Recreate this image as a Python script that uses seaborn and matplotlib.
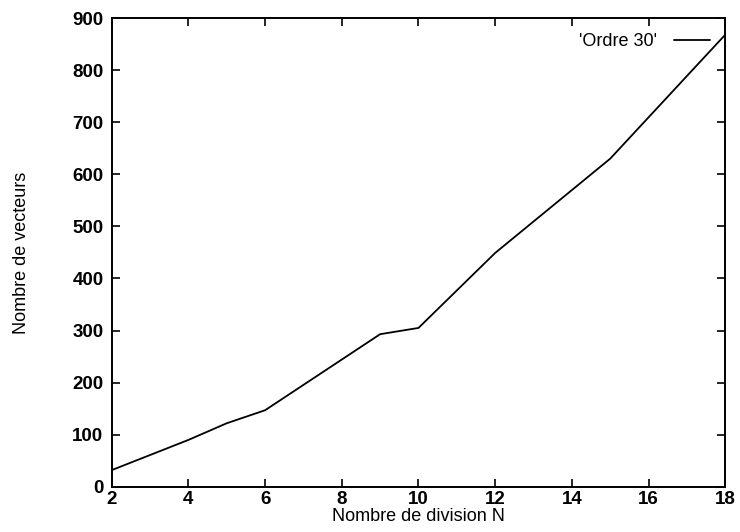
import matplotlib
matplotlib.use('Agg')
import matplotlib.pyplot as plt
import seaborn as sns
import pandas as pd

## data
n_division = [2, 4, 5, 6, 9, 10, 12, 15, 18]
nb_vecteurs = [32, 90, 122, 147, 293, 305, 449, 630, 868]
series_label = "'Ordre 30'"
x_ticks = [2, 4, 6, 8, 10, 12, 14, 16, 18]
y_ticks = [0, 100, 200, 300, 400, 500, 600, 700, 800, 900]

df = pd.DataFrame({'N': n_division, 'vecteurs': nb_vecteurs})

sns.set_style('ticks')
plt.rcParams['font.family'] = ['Liberation Sans', 'DejaVu Sans']
plt.rcParams['text.color'] = 'black'
plt.rcParams['axes.labelcolor'] = 'black'
plt.rcParams['xtick.color'] = 'black'
plt.rcParams['ytick.color'] = 'black'

fig = plt.figure(figsize=(7.4, 5.32), dpi=100)
ax = fig.add_axes([0.151, 0.085, 0.829, 0.881])

sns.lineplot(data=df, x='N', y='vecteurs', color='black', linewidth=1.3,
             label=series_label, ax=ax)

ax.set_xlim(2, 18)
ax.set_ylim(0, 900)
ax.set_xticks(x_ticks)
ax.set_yticks(y_ticks)
ax.tick_params(direction='in', top=True, right=True, length=6, width=1.2,
               labelsize=13.5)
ax.tick_params(axis='x', pad=3)
ax.tick_params(axis='y', pad=6)
for lab in ax.get_xticklabels() + ax.get_yticklabels():
    lab.set_fontweight('bold')
for s in ax.spines.values():
    s.set_linewidth(1.4)
    s.set_color('black')

ax.set_xlabel('Nombre de division N', fontsize=13, labelpad=0)
ax.set_ylabel('Nombre de vecteurs', fontsize=13, labelpad=30)

ax.legend(loc='upper right', frameon=False, markerfirst=False, fontsize=13,
          handlelength=2.0, borderaxespad=0.45, handletextpad=0.9)

plt.savefig('out.png', dpi=100)
